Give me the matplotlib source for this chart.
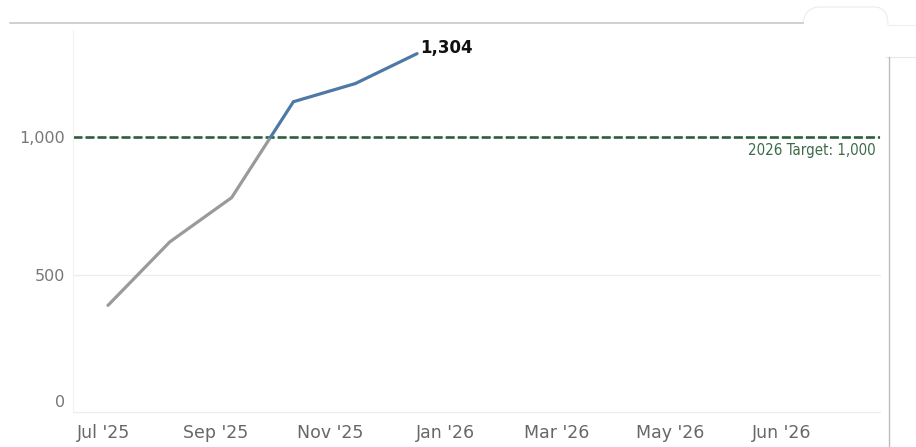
import numpy as np
import matplotlib
matplotlib.use("Agg")
import matplotlib.pyplot as plt
import matplotlib.transforms as mtransforms
from matplotlib.lines import Line2D
from matplotlib.patches import PathPatch
from matplotlib.path import Path

# Monthly cumulative totals
months = ["Jul '25", "Aug '25", "Sep '25", "Oct '25", "Nov '25", "Dec '25"]
totals = [388, 619, 780, 1129, 1195, 1304]
target_value = 1000
target_label = "2026 Target: 1,000"

# Axis labels
x_tick_labels = ["Jul '25", "Sep '25", "Nov '25", "Jan '26", "Mar '26", "May '26", "Jun '26"]
y_ticks = [0, 500, 1000]

GREY = "#9a9a9a"
BLUE = "#4f79a5"
GREEN = "#2f5e3c"

W, H = 916, 447
fig = plt.figure(figsize=(W / 100, H / 100), dpi=100)
fig.patch.set_facecolor("white")

def fx(px):
    return px / W

def fy(py):
    return 1 - py / H

ax = fig.add_axes([fx(73), fy(412), fx(880) - fx(73), fy(30) - fy(412)])
x = np.arange(len(totals), dtype=float)
y = np.array(totals, dtype=float)

# split the line where it crosses the target: grey below, blue above
i = int(np.argmax(y >= target_value))
xc = x[i - 1] + (target_value - y[i - 1]) / (y[i] - y[i - 1]) * (x[i] - x[i - 1])
xs_low = np.r_[x[:i], xc]
ys_low = np.r_[y[:i], target_value]
xs_high = np.r_[xc, x[i:]]
ys_high = np.r_[target_value, y[i:]]

ax.axhline(target_value, color=GREEN, lw=1.9, dashes=(3.4, 1.15), zorder=2)
ax.plot(xs_low, ys_low, color=GREY, lw=2.3, solid_capstyle="round", zorder=3)
ax.plot(xs_high, ys_high, color=BLUE, lw=2.3, solid_capstyle="round",
        solid_joinstyle="miter", zorder=3)

ax.annotate(f"{totals[-1]:,}", (x[-1], y[-1]), xytext=(2, 4),
            textcoords="offset points", ha="left", va="center",
            fontsize=12, fontweight="bold", color="#111111", family="DejaVu Sans")

ax.set_xlim(-0.566, 12.49)
ax.set_ylim(0, 1390)

# tick label positions along the month axis
x_tick_pos = [-0.08, 1.748, 3.592, 5.453, 7.265, 9.094, 10.906]
ax.set_xticks(x_tick_pos)
ax.set_xticklabels(x_tick_labels, fontsize=12.5, color="#676767", family="DejaVu Sans")
ax.set_yticks(y_ticks)
ax.set_yticklabels([f"{v:,}" for v in y_ticks], fontsize=11.5, color="#777777",
                   family="DejaVu Sans")
ax.tick_params(length=0, pad=6)
ax.tick_params(axis="x", pad=9)

# keep the zero label just above the baseline
zero_lbl = ax.get_yticklabels()[0]
zero_lbl.set_transform(zero_lbl.get_transform() +
                       mtransforms.ScaledTranslation(0, 11 / 100, fig.dpi_scale_trans))

ax.grid(axis="y", color="#ececec", lw=0.9, zorder=0)
for gl in ax.get_ygridlines():
    gl.set_clip_on(False)
for side in ("top", "right", "bottom"):
    ax.spines[side].set_visible(False)
ax.spines["left"].set_color("#f2f2f2")

ax.annotate(target_label, (0.9945, target_value), xycoords=ax.get_yaxis_transform(),
            xytext=(0, -4), textcoords="offset points",
            ha="right", va="top", fontsize=10.8, color="#3d6b4a",
            family="DejaVu Sans", stretch="condensed")

# surrounding frame lines
def px_line(xs, ys, color, lw=1.0):
    fig.add_artist(Line2D([fx(v) for v in xs], [fy(v) for v in ys],
                          transform=fig.transFigure, color=color, lw=lw))

px_line([10, 803], [23, 23], "#c4c4c4", 1.1)
px_line([888, 916], [25, 25], "#efefef", 0.8)
px_line([886, 916], [57, 57], "#e8e8e8", 0.8)
px_line([888.5, 888.5], [57, 447], "#bdbdbd", 1.0)

verts = [(803, 23), (805, 7), (820, 7), (874, 7), (888, 7), (888, 25)]
codes = [Path.MOVETO, Path.CURVE3, Path.CURVE3, Path.LINETO, Path.CURVE3, Path.CURVE3]
blob = Path([(fx(a), fy(b)) for a, b in verts], codes)
fig.add_artist(PathPatch(blob, transform=fig.transFigure, facecolor="none",
                         edgecolor="#ececec", lw=0.8))

fig.savefig("out.png", dpi=100, facecolor="white")
